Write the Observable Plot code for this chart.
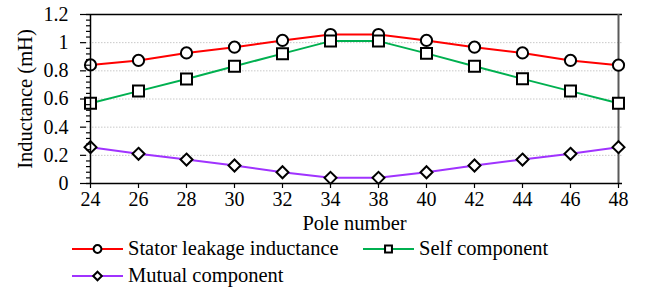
<!DOCTYPE html>
<html>
<head>
<meta charset="utf-8">
<script src="https://cdn.jsdelivr.net/npm/d3@7"></script>
<script src="https://cdn.jsdelivr.net/npm/@observablehq/plot@0.6"></script>
<style>
  body { margin: 0; background: #fff; font-family: 'Liberation Serif', 'Times New Roman', Tinos, 'DejaVu Serif', serif; }
  #wrap { width: 652px; position: relative; }
  #chart svg, #chart svg text { font-family: 'Liberation Serif', 'Times New Roman', Tinos, 'DejaVu Serif', serif !important; }
  #legend { position: relative; height: 53px; font-size: 20.5px; color: #000; }
  .item { position: absolute; display: flex; align-items: center; height: 27px; white-space: nowrap; }
  .item svg { display: block; margin-right: 5px; }
</style>
</head>
<body>
<div id="wrap">
  <div id="chart"></div>
  <div id="legend"></div>
</div>
<script>
const poles = ["24","26","28","30","32","34","38","40","42","44","46","48"];
const statorLeakage = [0.842, 0.874, 0.927, 0.968, 1.016, 1.058, 1.058, 1.016, 0.968, 0.927, 0.874, 0.840];
const selfComponent = [0.570, 0.656, 0.742, 0.833, 0.922, 1.011, 1.011, 0.924, 0.833, 0.743, 0.656, 0.570];
const mutualComponent = [0.258, 0.211, 0.170, 0.128, 0.080, 0.040, 0.040, 0.080, 0.128, 0.170, 0.211, 0.258];
const seriesNames = ["Stator leakage inductance", "Self component", "Mutual component"];
const seriesColors = ["#ff0000", "#00b050", "#a033ff"];
const seriesSymbols = ["circle", "square", "diamond2"];
const yMajorTicks = [0, 0.2, 0.4, 0.6, 0.8, 1.0, 1.2];
const yGridTicks = [0.2, 0.4, 0.6, 0.8, 1.0];

const seriesValues = [statorLeakage, selfComponent, mutualComponent];
const rows = [];
seriesValues.forEach((vals, si) => {
  vals.forEach((v, i) => rows.push({series: seriesNames[si], pole: poles[i], value: v}));
});
const minorTicks = d3.range(0, 31).map(i => +(i * 0.04).toFixed(2)).filter(v => v <= 1.2 && Math.abs(v * 5 - Math.round(v * 5)) > 1e-6);

const dotSizes = {"circle": 5.6, "square": 6.2, "diamond2": 5.4};
const serif = "'Liberation Serif', 'Times New Roman', Tinos, 'DejaVu Serif', serif";
const yFmt = d => String(+d.toFixed(1));

const chart = Plot.plot({
  width: 652,
  height: 235,
  marginLeft: 86,
  marginRight: 30,
  marginTop: 14,
  marginBottom: 52,
  style: {fontFamily: serif, fontSize: "20px", color: "#000", background: "#fff"},
  x: {type: "point", domain: poles, padding: 0},
  y: {domain: [0, 1.2]},
  color: {domain: seriesNames, range: seriesColors},
  symbol: {domain: seriesNames, range: seriesSymbols},
  marks: [
    Plot.gridY(yGridTicks, {stroke: "#c8c8c8", strokeOpacity: 1, strokeDasharray: "1.5,1.5", strokeWidth: 1}),
    Plot.ruleY([1.2], {stroke: "#000", strokeWidth: 1.5}),
    Plot.ruleX(["48"], {stroke: "#595959", strokeWidth: 2}),
    Plot.line(rows, {x: "pole", y: "value", z: "series", stroke: "series", strokeWidth: 2}),
    ...seriesNames.map((name, si) =>
      Plot.dot(rows.filter(d => d.series === name), {
        x: "pole", y: "value", symbol: "series",
        r: dotSizes[seriesSymbols[si]], stroke: "#000", strokeWidth: 2, fill: "#fff"
      })
    ),
    Plot.axisY(minorTicks, {tickSize: -4, tickFormat: () => "", strokeWidth: 1.2, label: null}),
    Plot.axisY(yMajorTicks, {tickSize: 6, tickFormat: () => "", strokeWidth: 1.2, label: null}),
    Plot.axisX({tickSize: 5, tickFormat: () => "", strokeWidth: 1.2, label: null}),
    Plot.text(yMajorTicks, {y: d => d, text: yFmt, frameAnchor: "left", dx: -18, textAnchor: "end", lineAnchor: "middle", fontSize: 20, fill: "#000"}),
    Plot.text(poles, {x: d => d, text: d => d, frameAnchor: "bottom", dy: 16, textAnchor: "middle", lineAnchor: "middle", fontSize: 20, fill: "#000"}),
    Plot.ruleY([0], {stroke: "#000", strokeWidth: 1.5}),
    Plot.ruleX(["24"], {stroke: "#000", strokeWidth: 1.5}),
    Plot.text(["Pole number"], {frameAnchor: "bottom", dy: 40, lineAnchor: "middle", textAnchor: "middle", fontSize: 20.5, fill: "#000"}),
    Plot.text(["Inductance (mH)"], {frameAnchor: "left", dx: -61, rotate: -90, textAnchor: "middle", lineAnchor: "middle", fontSize: 20.5, fill: "#000"})
  ]
});
document.getElementById("chart").appendChild(chart);

// Legend
const legend = document.getElementById("legend");
const legendPos = [{left: 72, top: 0}, {left: 363, top: 0}, {left: 72, top: 27}];
function swatchPath(sym) {
  return d3.symbol(sym === "circle" ? d3.symbolCircle : sym === "square" ? d3.symbolSquare : d3.symbolDiamond2, 3.9 * 3.9 * Math.PI)();
}
seriesNames.forEach((name, i) => {
  const div = document.createElement("div");
  div.className = "item";
  div.style.left = legendPos[i].left + "px";
  div.style.top = legendPos[i].top + "px";
  const ns = "http://www.w3.org/2000/svg";
  const svg = document.createElementNS(ns, "svg");
  svg.setAttribute("width", 51);
  svg.setAttribute("height", 14);
  const line = document.createElementNS(ns, "line");
  line.setAttribute("x1", 0); line.setAttribute("x2", 51);
  line.setAttribute("y1", 7); line.setAttribute("y2", 7);
  line.setAttribute("stroke", seriesColors[i]); line.setAttribute("stroke-width", 2);
  svg.appendChild(line);
  const p = document.createElementNS(ns, "path");
  p.setAttribute("d", swatchPath(seriesSymbols[i]));
  p.setAttribute("transform", "translate(25.5,7)");
  p.setAttribute("fill", "#fff"); p.setAttribute("stroke", "#000"); p.setAttribute("stroke-width", 2);
  svg.appendChild(p);
  div.appendChild(svg);
  const span = document.createElement("span");
  span.textContent = name;
  div.appendChild(span);
  legend.appendChild(div);
});
</script>
</body>
</html>
